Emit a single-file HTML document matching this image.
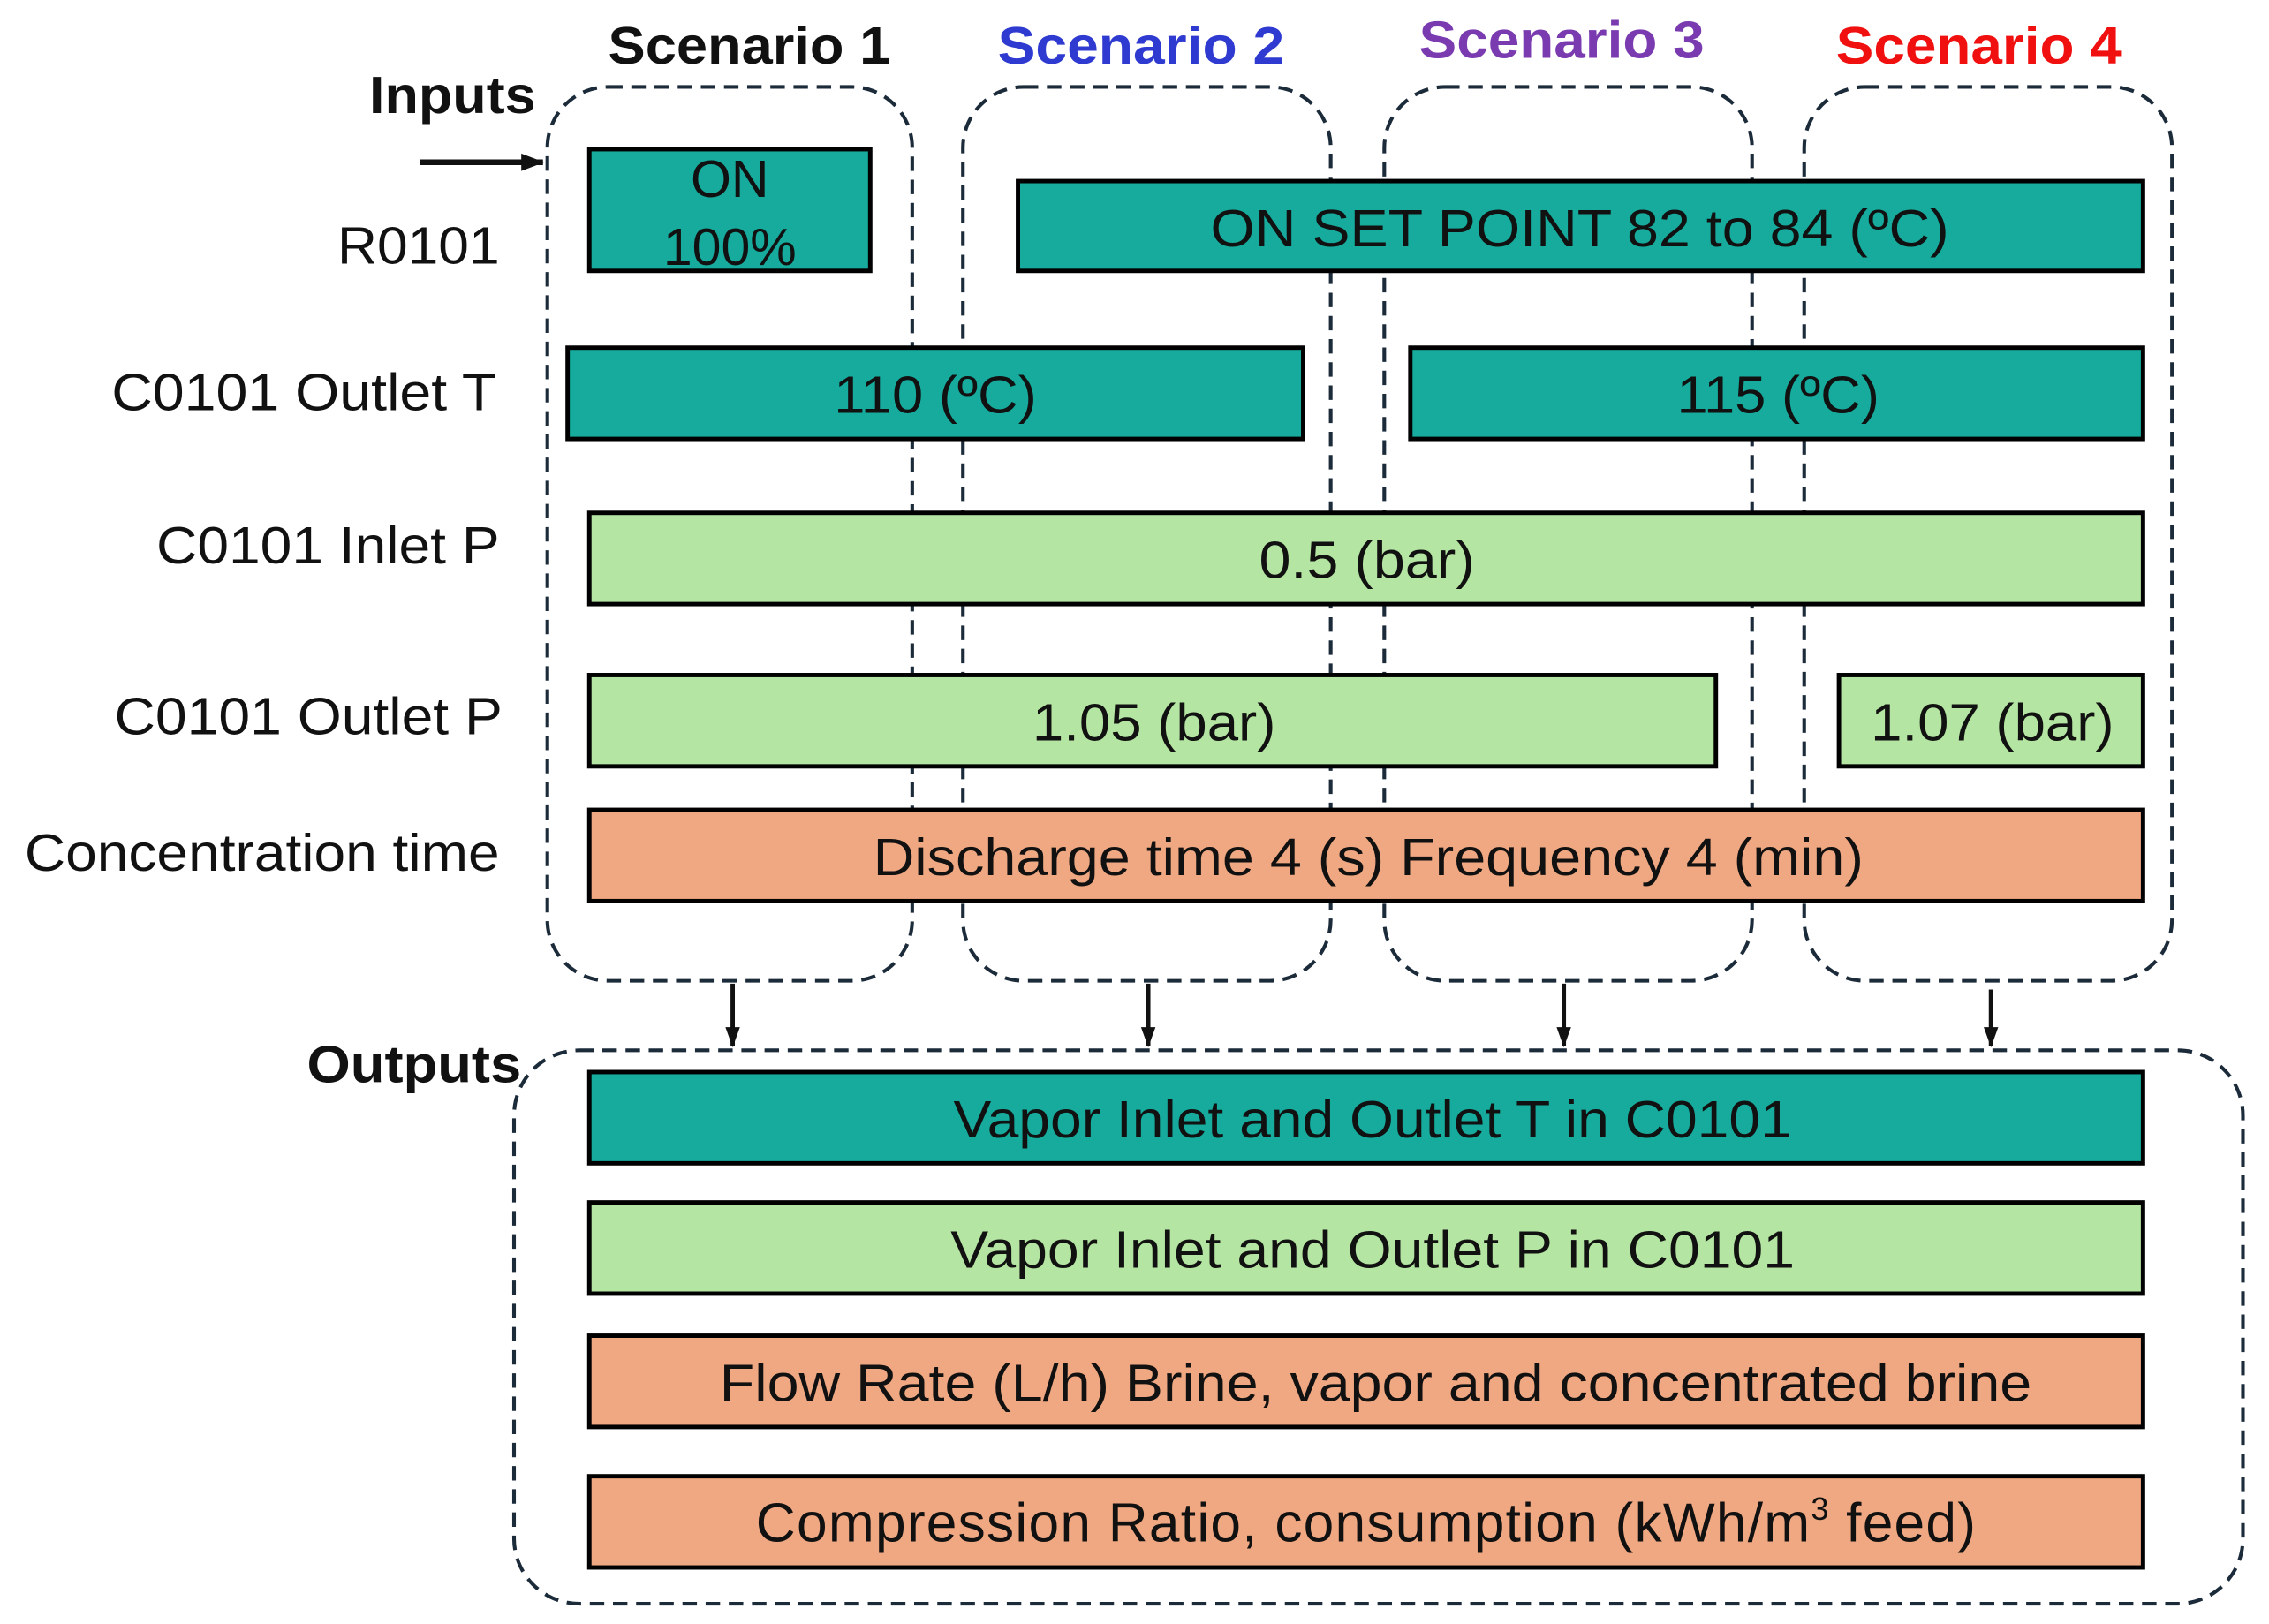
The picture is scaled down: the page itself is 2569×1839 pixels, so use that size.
<!DOCTYPE html>
<html><head><meta charset="utf-8"><style>
html,body{margin:0;padding:0;background:#fff;}
svg{display:block;}
text{font-family:"Liberation Sans",Arial,sans-serif;fill:#111;}
</style></head><body>
<svg width="2569" height="1839" viewBox="0 0 1567 1121" preserveAspectRatio="none" xmlns="http://www.w3.org/2000/svg">
<defs><marker id="ah" markerWidth="12" markerHeight="14" refX="6" refY="13" orient="0" markerUnits="userSpaceOnUse"><path d="M1,0 L6,14 L11,0 z" fill="#111"/></marker>
<marker id="ah2" markerWidth="16" markerHeight="14" refX="15" refY="7" orient="auto" markerUnits="userSpaceOnUse"><path d="M0,1 L16,7 L0,13 z" fill="#111"/></marker></defs>
<g fill="none" stroke="#1c2b3a" stroke-width="2.5" stroke-dasharray="10 6">
<rect x="378" y="60" width="252" height="617" rx="42"/>
<rect x="665" y="60" width="254" height="617" rx="42"/>
<rect x="956" y="60" width="254" height="617" rx="42"/>
<rect x="1246" y="60" width="254" height="617" rx="42"/>
<rect x="355" y="725" width="1194" height="382" rx="45"/>
</g>
<g font-weight="bold" font-size="36">
<text x="420" y="44" textLength="195" lengthAdjust="spacingAndGlyphs">Scenario 1</text>
<text x="689" y="44" textLength="198" lengthAdjust="spacingAndGlyphs" style="fill:#2f3bd0">Scenario 2</text>
<text x="980" y="40" textLength="197" lengthAdjust="spacingAndGlyphs" style="fill:#7a3bb0">Scenario 3</text>
<text x="1268" y="44" textLength="197" lengthAdjust="spacingAndGlyphs" style="fill:#f01010">Scenario 4</text>
<text x="255" y="78" textLength="115" lengthAdjust="spacingAndGlyphs">Inputs</text>
<text x="212" y="747" textLength="148" lengthAdjust="spacingAndGlyphs">Outputs</text>
</g>
<line x1="290" y1="112" x2="375" y2="112" stroke="#111" stroke-width="4" marker-end="url(#ah2)"/>
<g stroke="#111" stroke-width="3">
<line x1="506" y1="679" x2="506" y2="722" marker-end="url(#ah)"/>
<line x1="793" y1="679" x2="793" y2="722" marker-end="url(#ah)"/>
<line x1="1080" y1="679" x2="1080" y2="722" marker-end="url(#ah)"/>
<line x1="1375" y1="683" x2="1375" y2="722" marker-end="url(#ah)"/>
</g>
<g font-size="36" text-anchor="end">
<text x="345" y="182" textLength="112" lengthAdjust="spacingAndGlyphs">R0101</text>
<text x="343" y="283" textLength="266" lengthAdjust="spacingAndGlyphs">C0101 Outlet T</text>
<text x="345" y="389" textLength="237" lengthAdjust="spacingAndGlyphs">C0101 Inlet P</text>
<text x="347" y="507" textLength="268" lengthAdjust="spacingAndGlyphs">C0101 Outlet P</text>
<text x="345" y="601" textLength="328" lengthAdjust="spacingAndGlyphs">Concentration time</text>
</g>
<g stroke="#000" stroke-width="3">
<rect x="407" y="103" width="194" height="84" fill="#16ab9d"/>
<rect x="703" y="125" width="777" height="62" fill="#16ab9d"/>
<rect x="392" y="240" width="508" height="63" fill="#16ab9d"/>
<rect x="974" y="240" width="506" height="63" fill="#16ab9d"/>
<rect x="407" y="354" width="1073" height="63" fill="#b5e5a2"/>
<rect x="407" y="466" width="778" height="63" fill="#b5e5a2"/>
<rect x="1270" y="466" width="210" height="63" fill="#b5e5a2"/>
<rect x="407" y="559" width="1073" height="63" fill="#f0a882"/>
<rect x="407" y="740" width="1073" height="63" fill="#16ab9d"/>
<rect x="407" y="830" width="1073" height="63" fill="#b5e5a2"/>
<rect x="407" y="922" width="1073" height="63" fill="#f0a882"/>
<rect x="407" y="1019" width="1073" height="63" fill="#f0a882"/>
</g>
<g font-size="36" text-anchor="middle">
<text x="504" y="136">ON</text>
<text x="504" y="183">100%</text>
<text x="1091" y="170" textLength="510" lengthAdjust="spacingAndGlyphs">ON SET POINT 82 to 84 (ºC)</text>
<text x="646" y="285" textLength="140" lengthAdjust="spacingAndGlyphs">110 (ºC)</text>
<text x="1228" y="285" textLength="140" lengthAdjust="spacingAndGlyphs">115 (ºC)</text>
<text x="944" y="399" textLength="149" lengthAdjust="spacingAndGlyphs">0.5 (bar)</text>
<text x="797" y="511" textLength="168" lengthAdjust="spacingAndGlyphs">1.05 (bar)</text>
<text x="1376" y="511" textLength="168" lengthAdjust="spacingAndGlyphs">1.07 (bar)</text>
<text x="945" y="604" textLength="684" lengthAdjust="spacingAndGlyphs">Discharge time 4 (s) Frequency 4 (min)</text>
<text x="948" y="785" textLength="579" lengthAdjust="spacingAndGlyphs">Vapor Inlet and Outlet T in C0101</text>
<text x="948" y="875" textLength="583" lengthAdjust="spacingAndGlyphs">Vapor Inlet and Outlet P in C0101</text>
<text x="950" y="967" textLength="906" lengthAdjust="spacingAndGlyphs">Flow Rate (L/h) Brine, vapor and concentrated brine</text>
</g>
<text font-size="38" x="522" y="1064" letter-spacing="0.75">Compression Ratio, consumption (kWh/m<tspan font-size="22" dy="-15">3</tspan><tspan dy="15"> feed)</tspan></text>
</svg>
</body></html>
